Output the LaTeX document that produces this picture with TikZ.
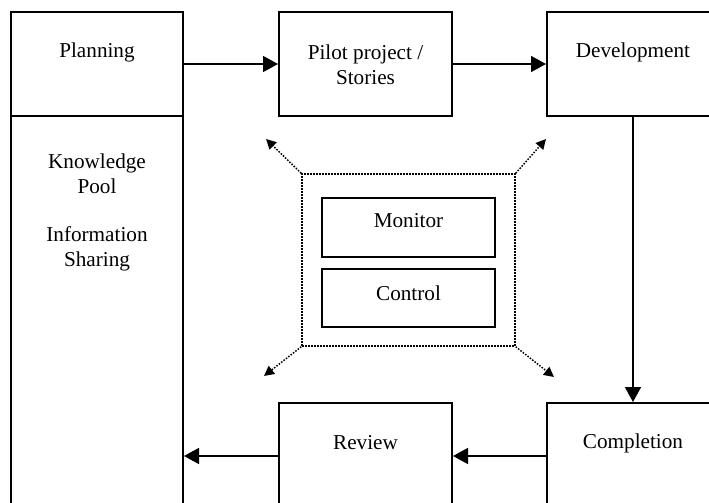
\documentclass[tikz,border=0pt]{standalone}
\usepackage{fontspec}
\setmainfont{Liberation Serif}
\usepackage{tikz}
\usetikzlibrary{arrows.meta}
\usetikzlibrary{positioning}

\tikzset{
  box/.style={rectangle, draw=black, line width=1pt, inner sep=0pt},
  txt/.style={align=center, inner sep=0pt, font=\fontsize{10.6}{12.5}\selectfont},
  flow/.style={-{Triangle[length=7.5pt, width=8pt]}, line width=0.8pt},
  spread/.style={-{Triangle[length=5pt, width=5pt]}, line width=0.75pt, dash pattern=on 0.75pt off 0.75pt}
}

\begin{document}
\begin{tikzpicture}[x=0.5pt, y=-0.5pt]
\useasboundingbox (0, 0) rectangle (709, 503);
\clip (0, 0) rectangle (709, 503);
% boxes
\node [box, minimum width=86pt, minimum height=52pt] (plan) at (97, 64) {};
\node [box, minimum width=86pt, minimum height=340pt] (know) at (97, 456) {};
\node [box, minimum width=86.5pt, minimum height=52pt] (pilot) at (365.5, 64) {};
\node [box, minimum width=86pt, minimum height=52pt] (dev) at (633, 64) {};
\node [box, minimum width=86pt, minimum height=53pt] (compl) at (633, 456) {};
\node [box, minimum width=86.5pt, minimum height=53pt] (review) at (365.5, 456) {};
\node [rectangle, draw=black, line width=0.75pt, dash pattern=on 0.75pt off 0.75pt, minimum width=106.5pt, minimum height=86pt] (mc) at (408.5, 260) {};
\node [box, minimum width=86.5pt, minimum height=29.5pt] (monitor) at (408.5, 227.5) {};
\node [box, minimum width=86.5pt, minimum height=29pt] (control) at (408.5, 298) {};
% texts
\node [txt] (plantxt) at (97, 52) {Planning};
\node [txt] (knowtxt) at (97, 174) {Knowledge\\Pool};
\node [txt] (infotxt) at (97, 249) {Information\\Sharing};
\node [txt] (pilottxt) at (365.5, 65) {Pilot project /\\Stories};
\node [txt] (devtxt) at (633, 52) {Development};
\node [txt] (monitortxt) at (408.5, 221) {Monitor};
\node [txt] (controltxt) at (408.5, 293) {Control};
\node [txt] (reviewtxt) at (365.5, 443) {Review};
\node [txt] (compltxt) at (633, 443) {Completion};
% arrow ends
\coordinate (tl) at (266, 139);
\coordinate (tr) at (546, 139);
\coordinate (bl) at (264, 376);
\coordinate (br) at (554, 377);
% flow
\draw [flow] (plan) to (pilot);
\draw [flow] (pilot) to (dev);
\draw [flow] (dev) to (compl);
\draw [flow] (compl) to (review);
\draw [flow] (review) to (know);
\draw [spread] (mc.north west) to (tl);
\draw [spread] (mc.north east) to (tr);
\draw [spread] (mc.south west) to (bl);
\draw [spread] (mc.south east) to (br);
\end{tikzpicture}
\end{document}
